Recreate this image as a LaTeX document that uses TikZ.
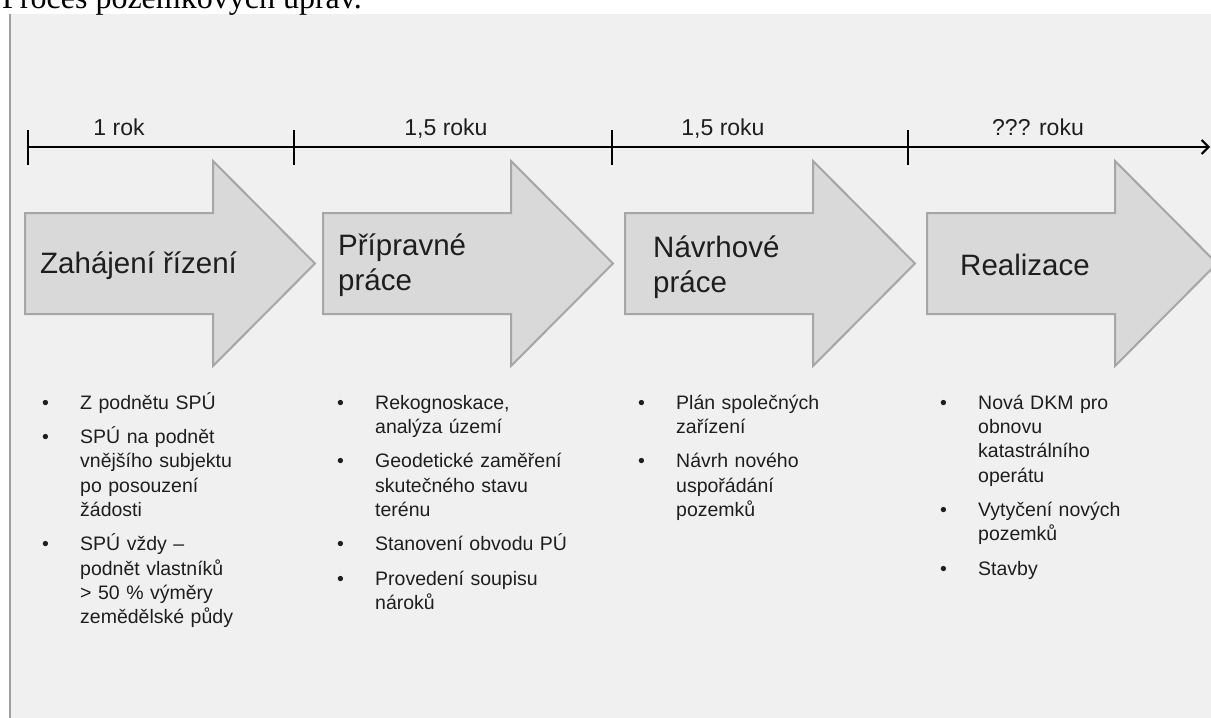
\documentclass[tikz,border=0pt]{standalone}
\usepackage{fontspec}
\setmainfont{Liberation Sans}
\newfontfamily\titleserif{Liberation Serif}
\usetikzlibrary{arrows.meta}
\definecolor{panelbg}{HTML}{F0F0F0}
\definecolor{arrowfill}{HTML}{D9D9D9}
\definecolor{arrowline}{HTML}{A6A6A6}
\definecolor{txt}{HTML}{1E1E1E}
\definecolor{panelline}{HTML}{A0A0A0}
\newcommand\bulitem[1]{\par\hangindent=38pt\hangafter=1\noindent\hbox to 38pt{\textbullet\hfil}#1\par}
\newcommand\bulgap{\vspace{10pt}}
\tikzset{
  phase/.style={fill=arrowfill, draw=arrowline, line width=2pt, line join=miter},
  phaselabel/.style={anchor=base west, inner sep=0pt, align=left, text=txt,
    font=\fontsize{29.5}{35}\selectfont},
  duration/.style={anchor=base, inner sep=0pt, text=txt, font=\fontsize{23}{27}\selectfont},
  bullets/.style={anchor=base west, inner sep=0pt, text width=260pt, text=txt,
    font=\fontsize{19.5}{24.3}\selectfont},
  tick/.style={line width=2.6pt},
  timeline/.style={line width=2.4pt, -{Straight Barb[length=7pt,width=14pt,line width=2pt]}}
}
\begin{document}
\begin{tikzpicture}[x=1pt,y=-1pt]
\useasboundingbox (0,0) rectangle (1211,718);
% panel
\fill[panelbg] (10,14) rectangle (1215,722);
\draw[panelline, line width=2pt] (10,14) -- (10,722);
% title (cut off at the top)
\node[anchor=base west, inner sep=0pt, font=\titleserif\fontsize{32}{38}\selectfont] (title) at (2,8) {Proces pozemkových úprav.};
% timeline
\coordinate (t0) at (28,147);
\coordinate (t1) at (294,147);
\coordinate (t2) at (612,147);
\coordinate (t3) at (908,147);
\coordinate (tend) at (1210,147);
\draw[timeline] (t0) -- (tend);
\foreach \t in {t0,t1,t2,t3}{
  \draw[tick] ([yshift=17pt]\t) -- ([yshift=-18pt]\t);
}
\node[duration] (d1) at (119,135) {1 rok};
\node[duration] (d2) at (446,135) {1,5 roku};
\node[duration] (d3) at (723,135) {1,5 roku};
\node[duration] (d4) at (1038,135) {??? roku};
% phase arrows
\foreach \L in {25,323,625,927}{
  \draw[phase] (\L,213) -- ++(188,0) -- ++(0,-52) -- ++(102,102.5) -- ++(-102,102.5) -- ++(0,-52) -- ++(-188,0) -- cycle;
}
\node[phaselabel] (p1) at (40,273) {Zahájení řízení};
\node[phaselabel] (p2) at (338,290) {Přípravné\\práce};
\node[phaselabel] (p3) at (653,292) {Návrhové\\práce};
\node[phaselabel] (p4) at (960,275) {Realizace};
% bullet lists
\node[bullets] (b1) at (42,385) {%
  \bulitem{Z podnětu SPÚ}\bulgap
  \bulitem{SPÚ na podnět\newline vnějšího subjektu\newline po posouzení\newline žádosti}\bulgap
  \bulitem{SPÚ vždy –\newline podnět vlastníků\newline > 50~\% výměry\newline zemědělské půdy}};
\node[bullets] (b2) at (337,385) {%
  \bulitem{Rekognoskace,\newline analýza území}\bulgap
  \bulitem{Geodetické zaměření\newline skutečného stavu\newline terénu}\bulgap
  \bulitem{Stanovení obvodu PÚ}\bulgap
  \bulitem{Provedení soupisu\newline nároků}};
\node[bullets] (b3) at (638,385) {%
  \bulitem{Plán společných\newline zařízení}\bulgap
  \bulitem{Návrh nového\newline uspořádání\newline pozemků}};
\node[bullets] (b4) at (940,385) {%
  \bulitem{Nová DKM pro\newline obnovu\newline katastrálního\newline operátu}\bulgap
  \bulitem{Vytyčení nových\newline pozemků}\bulgap
  \bulitem{Stavby}};
\end{tikzpicture}
\end{document}
